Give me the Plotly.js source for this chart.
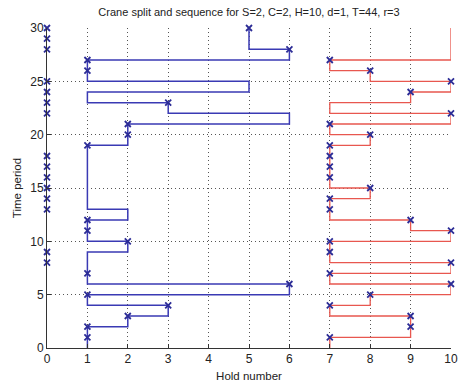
<!DOCTYPE html>
<html>
<head>
<meta charset="utf-8">
<script src="https://cdn.plot.ly/plotly-3.0.1.min.js"></script>
<style>html,body{margin:0;padding:0;background:#fff;}#chart{width:459px;height:388px;}</style>
</head>
<body>
<div id="chart"></div>
<script>
// Time periods 0..30
const timePeriods = [0,1,2,3,4,5,6,7,8,9,10,11,12,13,14,15,16,17,18,19,20,21,22,23,24,25,26,27,28,29,30];
// Hold occupied by crane 1 (blue) at each time period
const crane1Holds = [1,1,1,2,3,1,6,1,1,1,2,1,1,2,1,1,1,1,1,1,2,2,6,3,1,5,1,1,6,5,5];
// Hold occupied by crane 2 (red) at each time period
const crane2Holds = [7,7,9,9,7,8,10,7,10,7,7,10,9,7,7,8,7,7,7,7,8,7,10,7,9,10,8,7,10,10,10];
// Time periods where a marker is drawn on each crane's path
const crane1MarkTimes = [1,2,3,4,5,6,7,10,11,12,19,20,21,23,26,27,28,30];
const crane2MarkTimes = [1,2,3,4,5,6,7,8,9,10,11,12,13,14,15,16,17,18,19,20,21,22,24,25,26,27];
// Markers at hold 0
const hold0MarkTimes = [8,9,13,14,15,16,17,18,22,23,24,25,28,29,30];
const hold0 = hold0MarkTimes.map(() => 0);
const xTicks = [0,1,2,3,4,5,6,7,8,9,10];
const yTicks = [0,5,10,15,20,25,30];

const blue = '#3a3ab4';
const red = '#e8574f';
const mk = '#2c2c96';
const markerStyle = {symbol: 'x-thin', size: 6, color: mk, line: {color: mk, width: 1.8}};

const traces = [
  {x: crane1Holds, y: timePeriods, mode: 'lines', line: {color: blue, width: 1.5, shape: 'hv'}, cliponaxis: false, hoverinfo: 'skip'},
  {x: crane2Holds, y: timePeriods, mode: 'lines', line: {color: red, width: 1.3, shape: 'hv'}, cliponaxis: false, hoverinfo: 'skip'},
  {x: crane1MarkTimes.map(t => crane1Holds[t]), y: crane1MarkTimes, mode: 'markers', marker: markerStyle, cliponaxis: false},
  {x: crane2MarkTimes.map(t => crane2Holds[t]), y: crane2MarkTimes, mode: 'markers', marker: markerStyle, cliponaxis: false},
  {x: hold0, y: hold0MarkTimes, mode: 'markers', marker: markerStyle, cliponaxis: false}
];

const axisFont = {family: 'Liberation Sans, Arial, sans-serif', size: 12, color: '#222'};
const layout = {
  width: 459, height: 388,
  margin: {l: 47, r: 8, t: 28, b: 40},
  paper_bgcolor: '#fff', plot_bgcolor: '#fff',
  showlegend: false,
  title: {text: 'Crane split and sequence for S=2, C=2, H=10, d=1, T=44, r=3',
          font: {family: 'Liberation Sans, Arial, sans-serif', size: 11, color: '#222'},
          xref: 'paper', x: 0.5, xanchor: 'center', yref: 'container', y: 0.968, yanchor: 'middle'},
  xaxis: {range: [0, 10], tickvals: xTicks, ticktext: xTicks.map(String),
          showgrid: true, gridcolor: '#555', griddash: '1px,3px', gridwidth: 1,
          zeroline: false, showline: true, linecolor: '#333', linewidth: 1,
          ticks: 'inside', ticklen: 4, tickcolor: '#333',
          ticklabeloverflow: 'allow', automargin: false,
          tickfont: axisFont,
          title: {text: 'Hold number', font: {family: 'Liberation Sans, Arial, sans-serif', size: 11.5, color: '#222'}, standoff: 6}},
  yaxis: {range: [0, 30], tickvals: yTicks, ticktext: yTicks.map(String),
          showgrid: true, gridcolor: '#555', griddash: '1px,3px', gridwidth: 1,
          zeroline: false, showline: true, linecolor: '#333', linewidth: 1,
          ticks: 'inside', ticklen: 4, tickcolor: '#333',
          ticklabeloverflow: 'allow', automargin: false,
          tickfont: axisFont,
          title: {text: 'Time period', font: {family: 'Liberation Sans, Arial, sans-serif', size: 11.5, color: '#222'}, standoff: 6}}
};

Plotly.newPlot('chart', traces, layout, {displayModeBar: false, staticPlot: true});
</script>
</body>
</html>
